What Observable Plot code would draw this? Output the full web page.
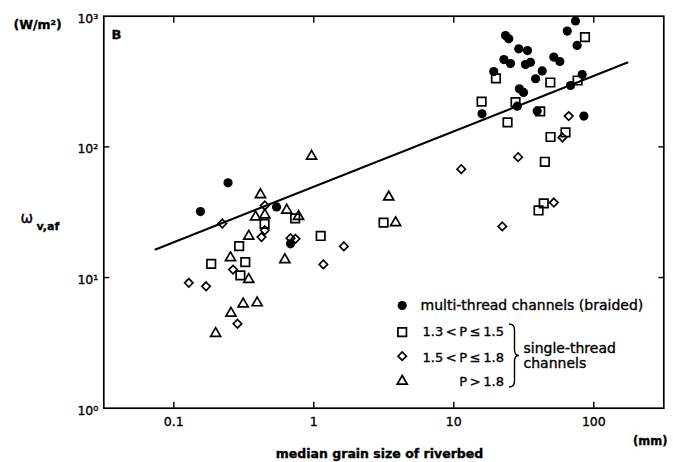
<!DOCTYPE html>
<html><head><meta charset="utf-8">
<script src="https://cdn.jsdelivr.net/npm/d3@7"></script>
<script src="https://cdn.jsdelivr.net/npm/@observablehq/plot@0.6"></script>
<style>
html,body{margin:0;padding:0;background:#fff;}
#chart{width:673px;height:462px;}
#chart svg text{stroke:#000;stroke-width:0.35px;}
</style></head><body><div id="chart"></div>
<script>
// multi-thread channels (braided)
const braidedX = [0.155, 0.244, 0.542, 0.682, 15.9, 19.3, 23.4, 24.7, 22.8, 25.4, 29.1, 33.6, 35.3, 32.5, 38.4, 42.8, 51.8, 57.2, 64.6, 74.0, 76.0, 82.6, 68.2, 29.4, 31.5, 28.4, 39.4, 84.9];
const braidedY = [32.0, 53.1, 34.7, 18.1, 179, 377, 711, 671, 466, 434, 563, 546, 444, 427, 332, 381, 487, 450, 770, 919, 597, 358, 295, 278, 261, 205, 188, 172];
// 1.3 < P <= 1.5
const sqX = [86.5, 20.0, 48.9, 76.6, 15.8, 27.6, 41.4, 24.2, 49.1, 62.8, 44.7, 43.9, 40.3, 3.15, 0.736, 1.12, 0.445, 0.293, 0.185, 0.324, 0.299];
const sqY = [691, 334, 311, 322, 222, 220, 187, 154, 119, 129, 76.9, 36.9, 32.6, 26.3, 28.4, 20.8, 25.7, 17.4, 12.7, 13.1, 10.4];
// 1.5 < P <= 1.8
const dmX = [0.222, 0.447, 0.447, 0.423, 0.682, 0.740, 1.64, 1.17, 0.265, 0.128, 0.170, 0.285, 11.3, 28.8, 66.2, 59.7, 51.8, 22.2];
const dmY = [25.9, 35.6, 23.0, 20.4, 20.0, 19.8, 17.3, 12.6, 11.5, 9.11, 8.57, 4.43, 67.5, 83.4, 172, 118, 37.5, 24.6];
// P > 1.8
const trX = [0.964, 0.416, 0.384, 0.447, 0.641, 0.778, 0.343, 0.621, 0.254, 0.343, 0.313, 0.394, 0.256, 0.199, 3.43, 3.84];
const trY = [84.7, 43.1, 29.1, 30.1, 32.8, 29.3, 20.7, 13.7, 14.2, 9.67, 6.28, 6.40, 5.33, 3.73, 41.3, 26.3];
// regression line end points
const fitX = [0.074, 174];
const fitY = [16.4, 442];

const xTicks = [0.1, 1, 10, 100];
const xTickLabels = ["0.1", "1", "10", "100"];
const yTicks = [1, 10, 100, 1000];
const yTickLabels = ["10\u2070", "10\u00b9", "10\u00b2", "10\u00b3"];
const legendLabels = ["multi-thread channels (braided)", "1.3 < P \u2264 1.5", "1.5 < P \u2264 1.8", "P > 1.8"];
const groupLabels = ["single-thread", "channels"];

const rows = (xs, ys) => xs.map((x, i) => ({x, y: ys[i]}));
const F = "DejaVu Sans";
const ML = 103.3, MR = 9.7, MT = 15.7, MB = 54.3;
const at = (x, y) => ({frameAnchor: "top-left", dx: x - ML, dy: y - MT});
const txt = (s, x, y, o = {}) => Plot.text([s], {text: d => d, ...at(x, y), lineAnchor: "bottom", textAnchor: "start", fontSize: 14, fill: "black", ...o});

const W = 673, H = 462;
const open = {stroke: "black", fill: "none", strokeWidth: 1.7};

const plot = Plot.plot({
  width: W, height: H,
  marginLeft: ML, marginRight: MR, marginTop: MT, marginBottom: MB,
  style: {fontFamily: F, background: "white", color: "black"},
  x: {type: "log", domain: [Math.pow(10, -1.5), Math.pow(10, 2.5)], label: null},
  y: {type: "log", domain: [1, 1000], label: null},
  marks: [
    Plot.frame({stroke: "black", strokeWidth: 1.7}),
    Plot.axisX({anchor: "bottom", ticks: xTicks, tickSize: -6, strokeWidth: 1.4, tickFormat: () => "", label: null}),
    Plot.axisX({anchor: "top", ticks: xTicks, tickSize: -6, strokeWidth: 1.4, tickFormat: () => "", label: null}),
    Plot.axisY({anchor: "left", ticks: [10, 100], tickSize: -6, strokeWidth: 1.4, tickFormat: () => "", label: null}),
    Plot.axisY({anchor: "right", ticks: [10, 100], tickSize: -6, strokeWidth: 1.4, tickFormat: () => "", label: null}),
    Plot.axisX({anchor: "bottom", ticks: xTicks, tickSize: 0, tickPadding: 9, fontSize: 12.5,
      tickFormat: d => xTickLabels[xTicks.indexOf(d)], label: null}),
    Plot.axisY({anchor: "left", ticks: yTicks, tickSize: 0, tickPadding: 5.5, fontSize: 12.5, dy: 2.5,
      tickFormat: d => yTickLabels[yTicks.indexOf(d)], label: null}),
    Plot.line(rows(fitX, fitY), {x: "x", y: "y", stroke: "black", strokeWidth: 2}),
    Plot.dot(rows(sqX, sqY), {x: "x", y: "y", symbol: "square", r: 4.8, ...open}),
    Plot.dot(rows(dmX, dmY), {x: "x", y: "y", symbol: "diamond2", r: 3.8, ...open}),
    Plot.dot(rows(trX, trY), {x: "x", y: "y", symbol: "triangle2", r: 4.8, ...open}),
    Plot.dot(rows(braidedX, braidedY), {x: "x", y: "y", symbol: "circle", r: 4.6, fill: "black", stroke: "none"}),
    // legend
    Plot.dot([0], {...at(401.7, 305), symbol: "circle", r: 4.6, fill: "black"}),
    Plot.dot([0], {...at(401.7, 331.7), symbol: "square", r: 4.8, ...open}),
    Plot.dot([0], {...at(401.7, 355.7), symbol: "diamond2", r: 3.8, ...open}),
    Plot.dot([0], {...at(401.7, 380.8), symbol: "triangle2", r: 4.8, ...open}),
    txt(legendLabels[0], 420, 309),
    txt(legendLabels[1], 503.5, 335.7, {textAnchor: "end", fontSize: 13}),
    txt(legendLabels[2], 503.5, 361, {textAnchor: "end", fontSize: 13}),
    txt(legendLabels[3], 503.5, 385, {textAnchor: "end", fontSize: 13}),
    txt(groupLabels[0], 523, 352),
    txt(groupLabels[1], 523, 367),
    // annotations
    txt("B", 111, 38, {fontWeight: "bold", fontSize: 13}),
    txt("(W/m\u00b2)", 13, 28.5, {fontSize: 12.5, fontWeight: "bold"}),
    txt("\u03c9", 20, 222, {fontSize: 15}),
    txt("v,af", 36, 229, {fontSize: 11, fontWeight: "bold"}),
    txt("(mm)", 667, 444.5, {textAnchor: "end", fontSize: 11.5, fontWeight: "bold"}),
    txt("median grain size of riverbed", 379, 457, {textAnchor: "middle", fontSize: 12.5, fontWeight: "bold"})
  ]
});

d3.select(plot).selectAll("text").each(function () {
  if (/P/.test(this.textContent)) this.setAttribute("word-spacing", "-1.5");
});
// curly brace grouping the single-thread classes
d3.select(plot).append("path")
  .attr("d", "M509,324 Q514.5,324 514.5,330 L514.5,349.5 Q514.5,355.5 519,355.5 Q514.5,355.5 514.5,361.5 L514.5,381 Q514.5,387 509,387")
  .attr("fill", "none").attr("stroke", "black").attr("stroke-width", 1.4);

document.getElementById("chart").appendChild(plot);
</script>
</body></html>
